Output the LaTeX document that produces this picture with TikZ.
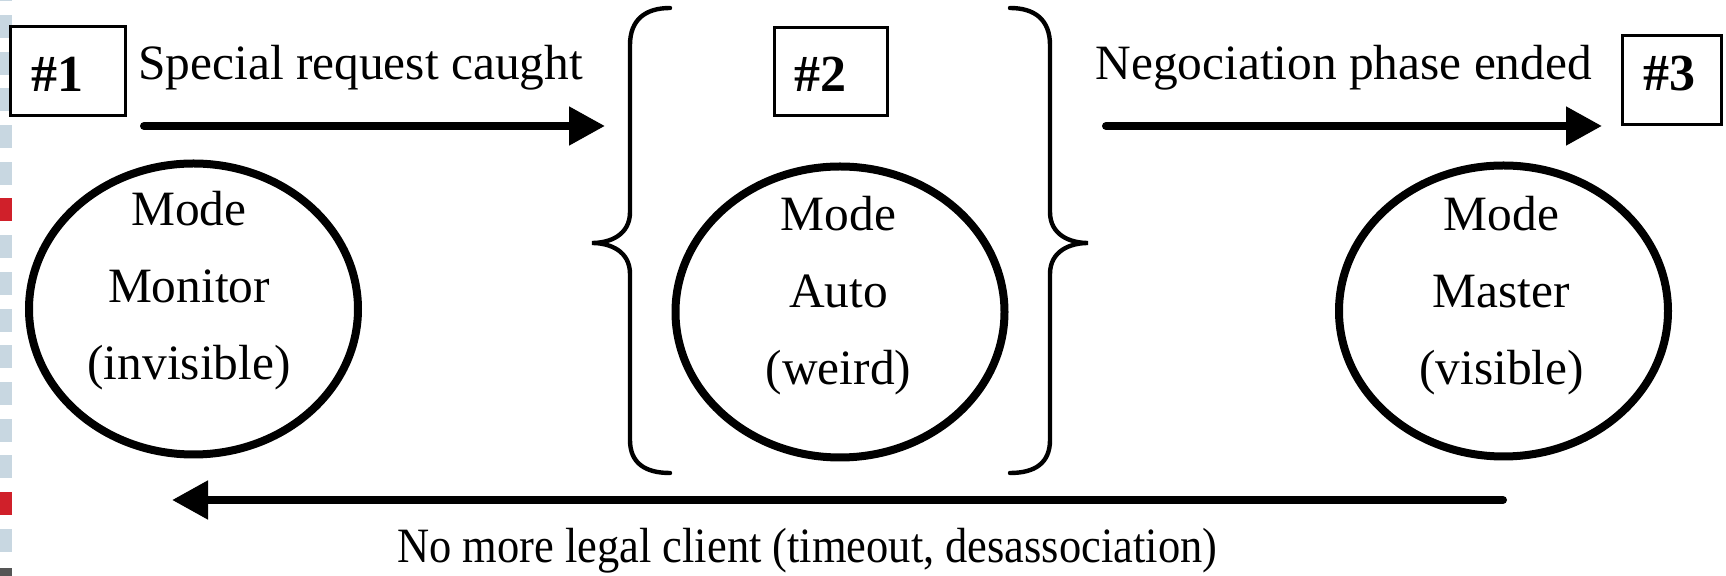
\documentclass[tikz,border=0pt]{standalone}
\usepackage{fontspec}
\setmainfont{Liberation Serif}
\usetikzlibrary{arrows.meta,shapes.geometric}
\definecolor{stripeblue}{HTML}{C8D7E1}
\definecolor{stripered}{HTML}{D0202A}
\definecolor{stripedark}{HTML}{555555}
\begin{document}
\begin{tikzpicture}[x=0.5pt,y=-0.5pt,
  stateell/.style={ellipse, draw, line width=4pt, minimum width=164.5pt, minimum height=145.5pt, inner sep=0pt, outer sep=0pt},
  statetext/.style={align=center, font=\fontsize{24.7pt}{38.5pt}\selectfont, inner sep=0pt},
  numbox/.style={rectangle, draw, line width=1.5pt, inner sep=0pt, outer sep=0pt},
  numtext/.style={font=\fontsize{26pt}{30pt}\selectfont\bfseries, inner sep=0pt, anchor=base},
  lbl/.style={font=\fontsize{24.7pt}{30pt}\selectfont, inner sep=0pt, anchor=base west},
  flow/.style={line width=4pt, line cap=round, -{Triangle[length=18pt,width=18.5pt]}},
  bracestyle/.style={line width=2.2pt, line cap=round},
]
\useasboundingbox (0,0) rectangle (1726,576);
\fill[white] (0,0) rectangle (1726,576);

% left edge stripe
\foreach \k in {-1,...,14} {
  \fill[stripeblue] (0,{15+36.7*\k}) rectangle (12,{38+36.7*\k});
}
\fill[stripered] (0,{15+36.7*5}) rectangle (12,{38+36.7*5});
\fill[stripered] (0,{15+36.7*13}) rectangle (12,{38+36.7*13});
\fill[stripedark] (0,568) rectangle (12,576);

% number boxes
\node[numbox, minimum width=57.5pt, minimum height=44.5pt] (b1) at (68,71) {};
\node[numtext] (n1) at (57.5,92) {\#1};
\node[numbox, minimum width=56.5pt, minimum height=44pt] (b2) at (831,71.5) {};
\node[numtext] (n2) at (820.5,92) {\#2};
\node[numbox, minimum width=49.5pt, minimum height=44.5pt] (b3) at (1672,80) {};
\node[numtext] (n3) at (1669.5,91) {\#3};

% states
\node[stateell] (e1) at (193.5,309) {};
\node[statetext] (t1) at (189,290.5) {Mode\\Monitor\\(invisible)};
\node[stateell] (e2) at (840,312) {};
\node[statetext] (t2) at (838.5,295.5) {Mode\\Auto\\(weird)};
\node[stateell] (e3) at (1503.5,311) {};
\node[statetext] (t3) at (1501.5,295.5) {Mode\\Master\\(visible)};

% braces around state 2
\draw[bracestyle] (670,8) .. controls (645,8) and (630,20) .. (630,45) -- (630,212)
  .. controls (630,235) and (610,243) .. (592,243)
  .. controls (610,243) and (630,251) .. (630,274) -- (630,440)
  .. controls (630,463) and (645,473) .. (670,473);
\draw[bracestyle] (1010,8) .. controls (1035,8) and (1050,20) .. (1050,45) -- (1050,212)
  .. controls (1050,235) and (1070,243) .. (1088,243)
  .. controls (1070,243) and (1050,251) .. (1050,274) -- (1050,440)
  .. controls (1050,463) and (1035,473) .. (1010,473);

% transitions
\coordinate (a1s) at (144,126);
\coordinate (a1e) at (605,126);
\draw[flow] (a1s) -- (a1e);
\node[lbl] (l1) at (138,80) {Special request caught};

\coordinate (a2s) at (1106,126);
\coordinate (a2e) at (1602,126);
\draw[flow] (a2s) -- (a2e);
\node[lbl] (l2) at (1095,80) {Negociation phase ended};

\coordinate (a3s) at (1503,500);
\coordinate (a3e) at (172,500);
\draw[flow] (a3s) -- (a3e);
\node[lbl] (l3) at (397,563) {\scalebox{0.9}[1]{No more legal client (timeout, desassociation)}};
\end{tikzpicture}
\end{document}
